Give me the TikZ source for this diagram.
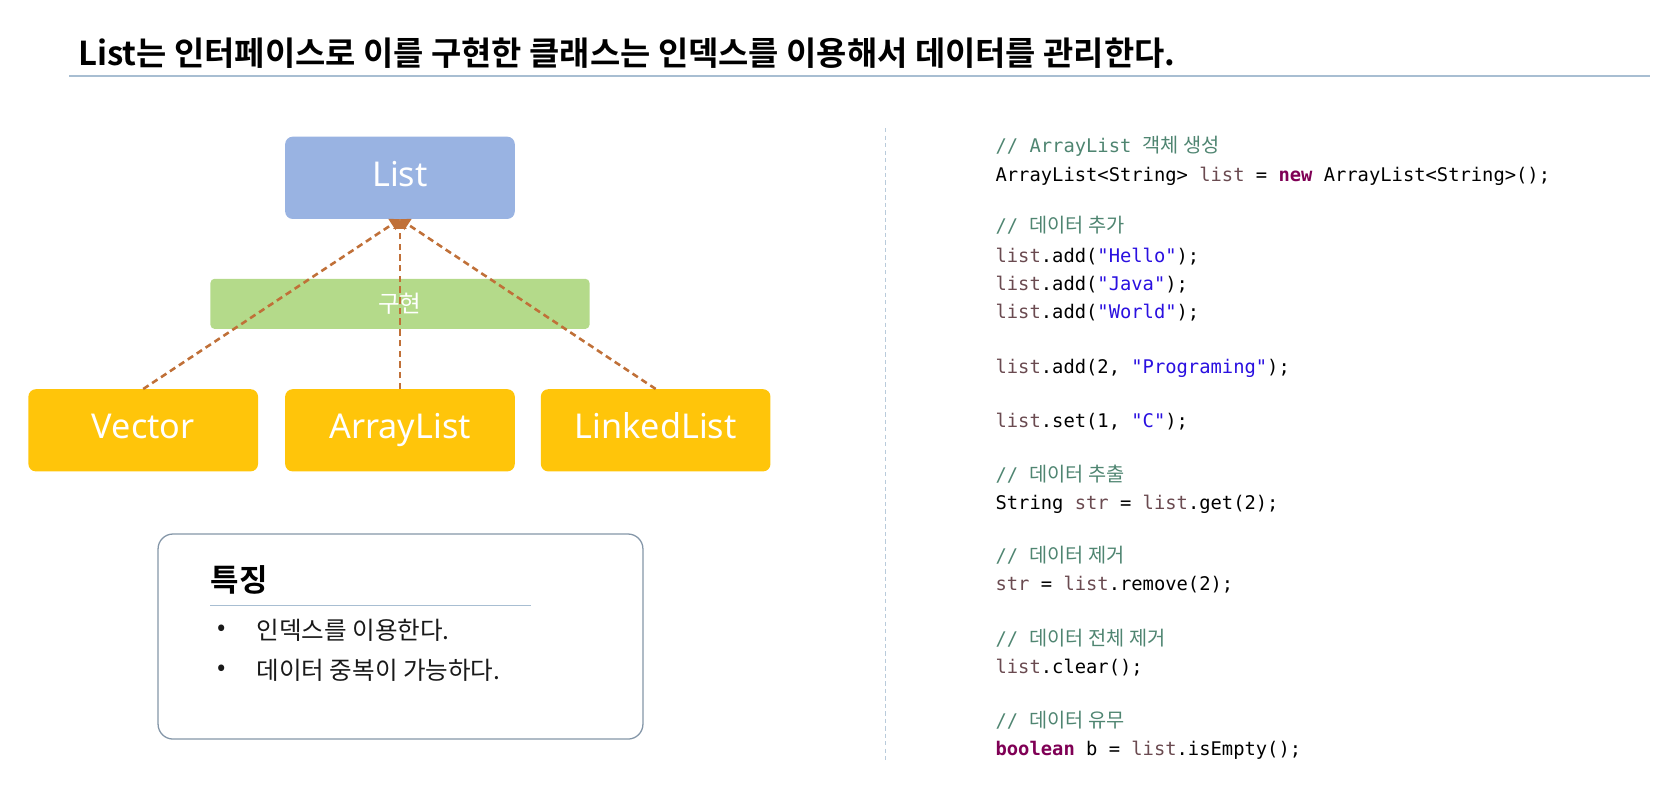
\documentclass[tikz,border=0pt]{standalone}
\usepackage{fontspec}
\usetikzlibrary{arrows.meta,positioning}

\newfontfamily\kr{Noto Sans CJK KR}[BoldFont={Noto Sans CJK KR Bold}]
\newfontfamily\lab{Noto Sans}
\newfontfamily\codefont{DejaVu Sans Mono}

\definecolor{ifaceblue}{HTML}{99B3E2}
\definecolor{notegreen}{HTML}{B4DA8A}
\definecolor{implamber}{HTML}{FFC50A}
\definecolor{realbrown}{HTML}{C07038}
\definecolor{rulegray}{HTML}{A8BED2}
\definecolor{framegray}{HTML}{8496A8}
\definecolor{jcomcol}{HTML}{4F8571}
\definecolor{jkeycol}{HTML}{7F0055}
\definecolor{jstrcol}{HTML}{2A10E0}
\definecolor{jvarcol}{HTML}{6A4A50}

\newcommand\jcom[1]{\textcolor{jcomcol}{#1}}
\newcommand\jkey[1]{\textcolor{jkeycol}{\bfseries #1}}
\newcommand\jstr[1]{\textcolor{jstrcol}{#1}}
\newcommand\jvar[1]{\textcolor{jvarcol}{#1}}
\newcommand\krc[1]{{\kr\fontsize{18.5}{21}\selectfont #1}}

\begin{document}
\begin{tikzpicture}[x=1pt,y=-1pt,
    box/.style={rounded corners=7pt,minimum width=215pt,minimum height=77pt,
                inner sep=0pt,text=white,text height=23pt,text depth=7pt,
                font=\lab\fontsize{32}{38}\selectfont},
    iface/.style={box,fill=ifaceblue},
    impl/.style={box,fill=implamber},
    implnote/.style={rounded corners=4pt,fill=notegreen,minimum width=355pt,
                minimum height=47pt,inner sep=0pt,text=white,
                font=\kr\fontsize{22}{26}\selectfont},
    realize/.style={draw=realbrown,line width=2.4pt,dash pattern=on 6pt off 4pt,
                -{Triangle[width=12pt,length=9pt]}},
    feat/.style={draw=framegray,line width=1.2pt,rounded corners=14pt,
                minimum width=454pt,minimum height=192pt},
    item/.style={anchor=west,inner sep=0pt,text=black!90,
                font=\kr\fontsize{23}{27}\selectfont},
    codeline/.style={anchor=base west,inner sep=0pt,
                font=\codefont\fontsize{17.6}{21}\selectfont}]

  \useasboundingbox (0,0) rectangle (1567.4,737.8);

  % title
  \node[anchor=base west,inner sep=0pt,font=\kr\bfseries\fontsize{30.8}{36}\selectfont]
       (title) at (73,61) {List는 인터페이스로 이를 구현한 클래스는 인덱스를 이용해서 데이터를 관리한다.};
  \draw[rulegray,line width=1.6pt] (65,71) -- (1545,71);

  % hierarchy
  \node[implnote]  (note)      at (374.5,284.5) {구현};
  \node[iface]     (list)      at (374.5,166.5) {List};
  \node[impl]      (arraylist) [below=159pt of list]     {ArrayList};
  \node[impl]      (vector)    [left=25pt of arraylist]  {Vector};
  \node[impl]      (linked)    [right=24pt of arraylist] {LinkedList};

  \path (vector.north)    edge[realize] (list.south)
        (arraylist.north) edge[realize] (list.south)
        (linked.north)    edge[realize] (list.south);

  % features
  \node[feat] (feat) at (375,596) {};
  \node[anchor=west,inner sep=0pt,font=\kr\bfseries\fontsize{29}{34}\selectfont]
       (feathead) at (197,543) {특징};
  \draw[rulegray,line width=1pt] (197,567) -- (497,567);
  \node[item] (b1) at (203,590) {•};
  \node[item] (t1) at (240,590) {인덱스를 이용한다.};
  \node[item] (b2) at (203,628) {•};
  \node[item] (t2) at (240,628) {데이터 중복이 가능하다.};

  % divider
  \draw[rulegray!80,line width=1.3pt,dash pattern=on 4pt off 3pt] (829,120) -- (829,712);

  % code
  \node[codeline] (c1)  at (932,143) {\jcom{// ArrayList \krc{객체 생성}}};
  \node[codeline] (c2)  at (932,170) {ArrayList<String> \jvar{list} = \jkey{new} ArrayList<String>();};
  \node[codeline] (c3)  at (932,218) {\jcom{// \krc{데이터 추가}}};
  \node[codeline] (c4)  at (932,246) {\jvar{list}.add(\jstr{"Hello"});};
  \node[codeline] (c5)  at (932,272) {\jvar{list}.add(\jstr{"Java"});};
  \node[codeline] (c6)  at (932,298) {\jvar{list}.add(\jstr{"World"});};
  \node[codeline] (c7)  at (932,350) {\jvar{list}.add(2, \jstr{"Programing"});};
  \node[codeline] (c8)  at (932,400) {\jvar{list}.set(1, \jstr{"C"});};
  \node[codeline] (c9)  at (932,451) {\jcom{// \krc{데이터 추출}}};
  \node[codeline] (c10) at (932,477) {String \jvar{str} = \jvar{list}.get(2);};
  \node[codeline] (c11) at (932,527) {\jcom{// \krc{데이터 제거}}};
  \node[codeline] (c12) at (932,553) {\jvar{str} = \jvar{list}.remove(2);};
  \node[codeline] (c13) at (932,604) {\jcom{// \krc{데이터 전체 제거}}};
  \node[codeline] (c14) at (932,631) {\jvar{list}.clear();};
  \node[codeline] (c15) at (932,681) {\jcom{// \krc{데이터 유무}}};
  \node[codeline] (c16) at (932,707) {\jkey{boolean} b = \jvar{list}.isEmpty();};
\end{tikzpicture}
\end{document}
